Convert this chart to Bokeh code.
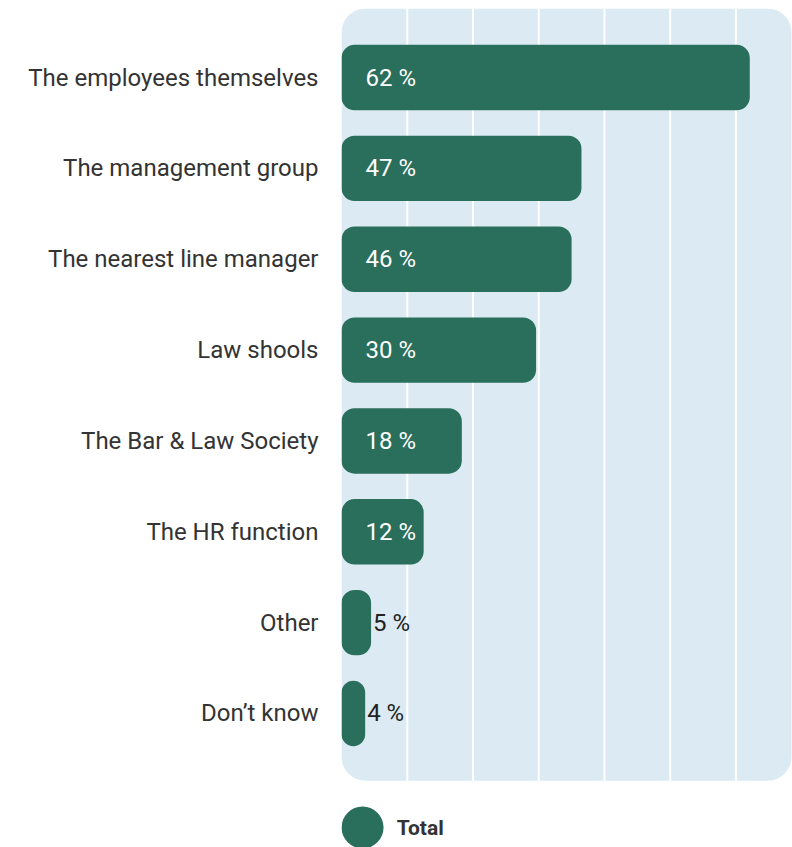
from bokeh.plotting import figure
from bokeh.models import ColumnDataSource, Range1d, FixedTicker
from bokeh.core.properties import value
from bokeh.embed import file_html
from bokeh.resources import INLINE

categories = ["The employees themselves", "The management group", "The nearest line manager",
              "Law shools", "The Bar & Law Society", "The HR function", "Other", "Don\u2019t know"]
# printed labels (percent)
label_values = [62, 47, 46, 30, 18, 12, 5, 4]
# bar lengths as drawn in the source picture (percent scale)
bar_values = [62.1, 36.5, 35.0, 29.6, 18.3, 12.5, 4.5, 3.6]
grid_ticks = [10, 20, 30, 40, 50, 60]
series_name = "Total"

BAR = "#2a6e5c"
BG = "#dcebf3"
TXT = "#333333"
FONT = "Roboto"
FS = "24px"

X_END = 68.6
Y_TOP = -0.76
BG_BOTTOM = 7.74
Y_BOTTOM = 8.475

n = len(categories)
ys = list(range(n))

p = figure(width=792, height=847, output_backend="svg", toolbar_location=None,
           x_range=Range1d(0, X_END), y_range=Range1d(Y_BOTTOM, Y_TOP),
           x_axis_location=None, min_border_left=341, min_border_right=0,
           min_border_top=8, min_border_bottom=0)
p.outline_line_color = None
p.xgrid.visible = False
p.ygrid.visible = False
p.background_fill_color = "white"
p.border_fill_color = "white"

# rounded background panel
p.quad(left=[0], right=[X_END - 0.15], top=[Y_TOP], bottom=[BG_BOTTOM],
       fill_color=BG, line_color=None, border_radius=24)

# gridlines
p.segment(x0=grid_ticks, x1=grid_ticks, y0=[Y_TOP] * len(grid_ticks),
          y1=[BG_BOTTOM] * len(grid_ticks), line_color="white", line_width=2)

# bars
src = ColumnDataSource(dict(y=ys, v=bar_values, cat=categories))
p.hbar(y="y", right="v", left=0, height=0.72, source=src,
       fill_color=BAR, line_color=None, border_radius=13)

# value labels
inside = [v >= 10 for v in label_values]
lab = ColumnDataSource(dict(
    x=[0 if i else b for b, i in zip(bar_values, inside)],
    y=ys,
    t=[f"{v} %" for v in label_values],
    c=["white" if i else "#222222" for i in inside],
    o=[24 if i else 2 for i in inside],
))
p.text(x="x", y="y", text="t", text_color="c", x_offset="o", source=lab,
       text_font=value(FONT), text_font_size=FS, text_baseline="middle", text_align="left")

# y axis labels
ax = p.yaxis[0]
ax.ticker = FixedTicker(ticks=ys)
ax.major_label_overrides = {y: c for y, c in zip(ys, categories)}
ax.axis_line_color = None
ax.major_tick_line_color = None
ax.minor_tick_line_color = None
ax.major_tick_out = 0
ax.major_tick_in = 0
ax.major_label_standoff = 23
ax.major_label_text_font = FONT
ax.major_label_text_font_size = FS
ax.major_label_text_color = TXT

# legend (drawn in frame, below the panel)
p.scatter(x=[3.2], y=[8.255], size=42, marker="circle", fill_color=BAR, line_color=None)
p.text(x=[8.4], y=[8.255], text=[series_name], text_font=value(FONT), text_font_size="21px",
       text_font_style="bold", text_color=TXT, text_baseline="middle", text_align="left")

open("out.html", "w").write(file_html(p, INLINE))
